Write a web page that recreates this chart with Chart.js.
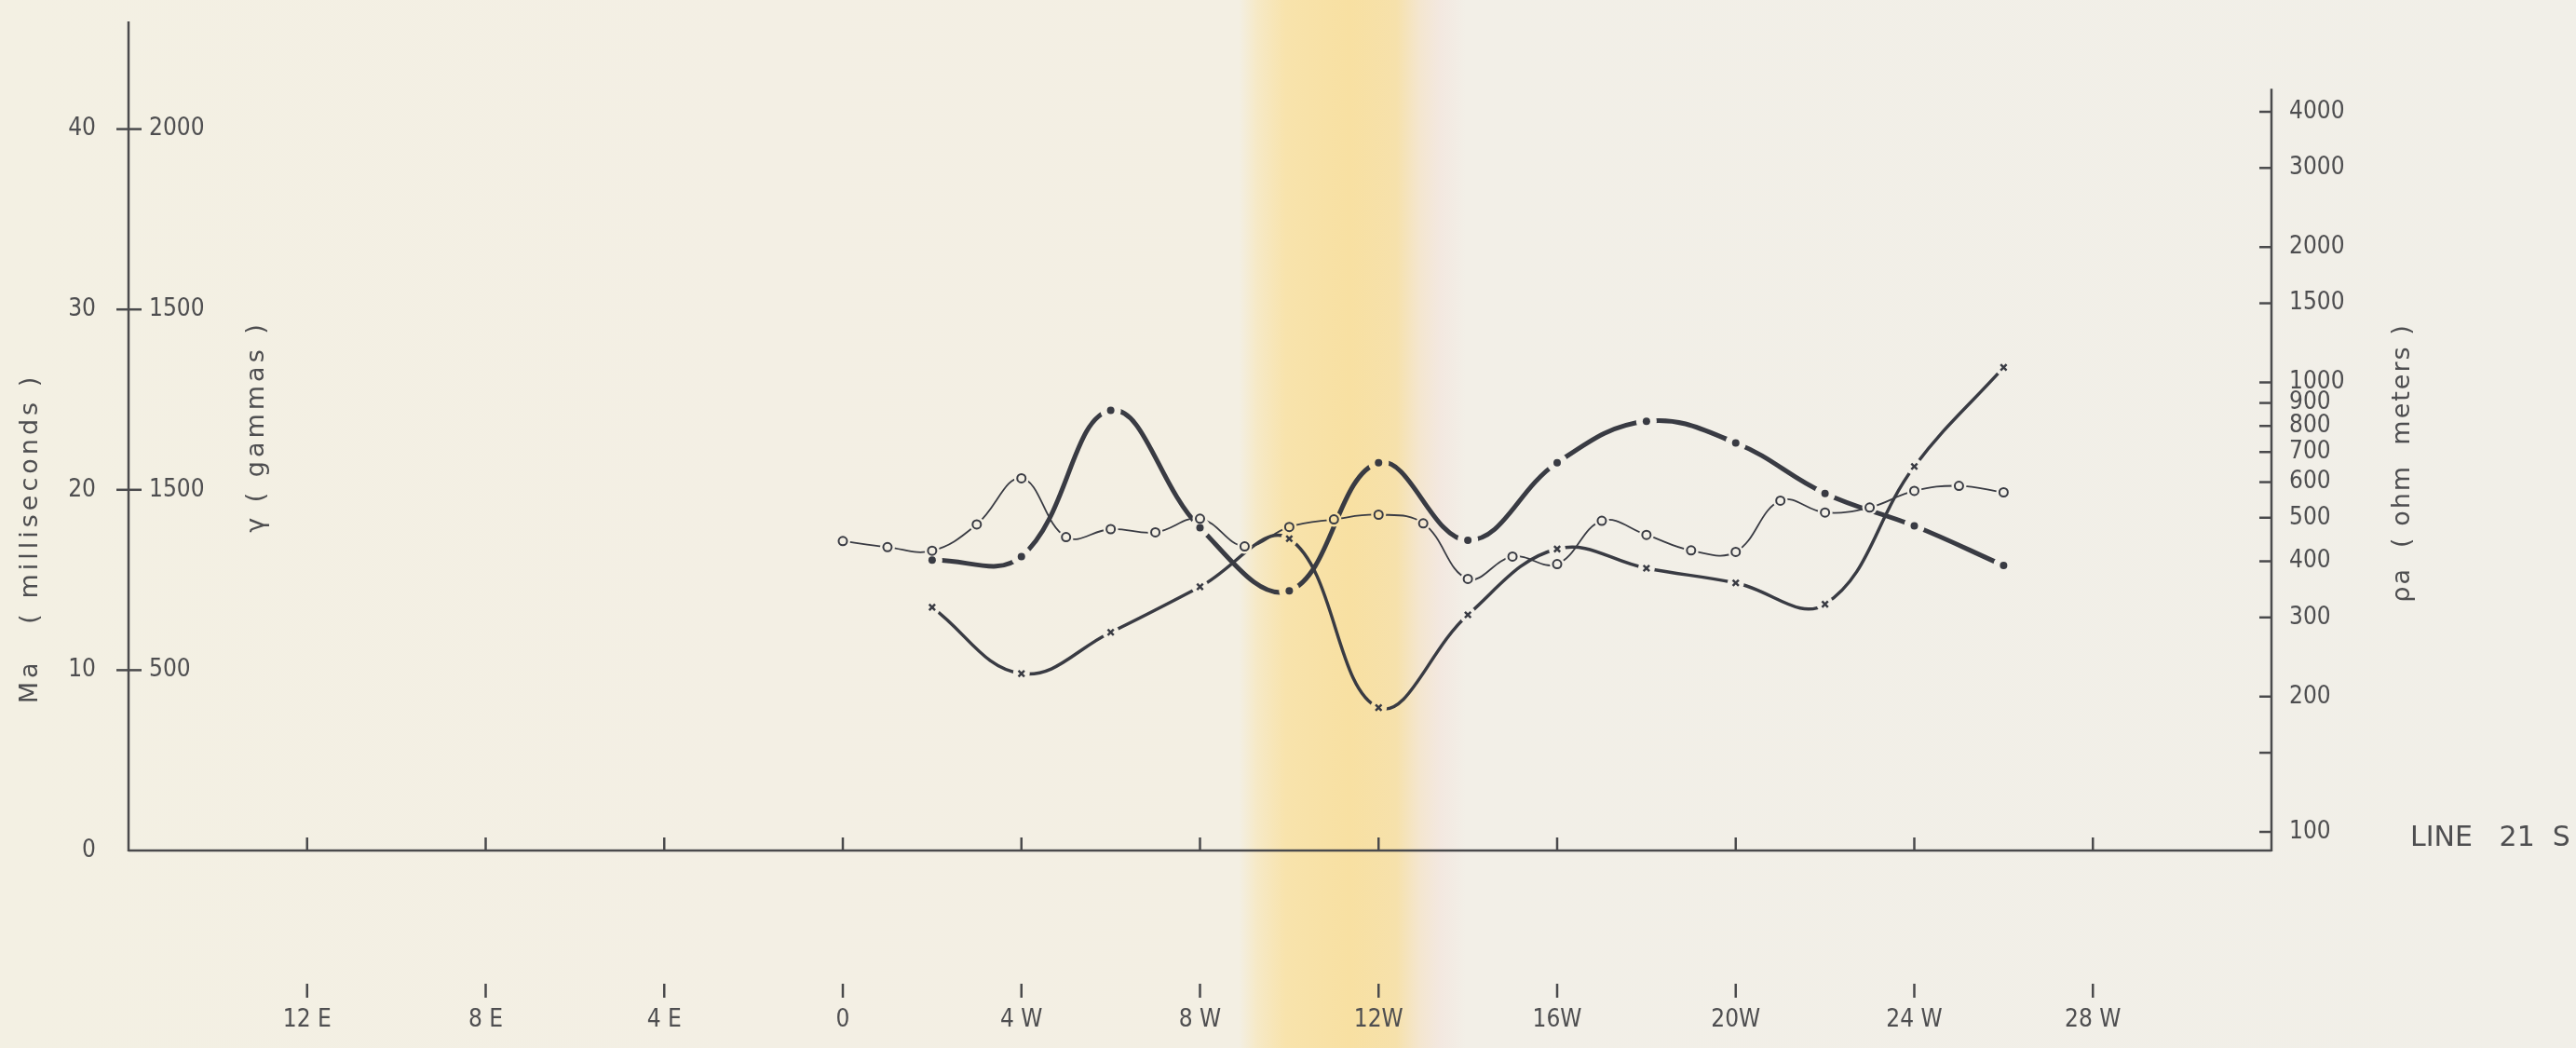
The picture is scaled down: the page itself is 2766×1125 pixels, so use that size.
<!DOCTYPE html>
<html>
<head>
<meta charset="utf-8">
<title>Line 21 S</title>
<script src="https://cdn.jsdelivr.net/npm/chart.js@4.4.1/dist/chart.umd.min.js"></script>
<style>
  html, body { margin: 0; padding: 0; }
  body {
    width: 2766px;
    height: 1125px;
    overflow: hidden;
    /* paper tone with the yellow stain band of the scan */
    background: linear-gradient(to right,
      #f3f0e3 0%, #f3efe4 30%, #f3efe3 48.1%, #f6e9c6 48.8%, #f8e3ac 49.9%,
      #f8e0a2 52.4%, #f6e1ab 54.2%, #f4e6cf 55.1%, #f3e8e0 55.9%,
      #f2efe7 56.9%, #f1efe8 100%);
  }
  #wrap { position: relative; width: 2766px; height: 1125px; }
</style>
</head>
<body>
<div id="wrap"><canvas id="profile"></canvas></div>
<script>
// stations: negative = east of 0, positive = west
const gammaStations = [0, 1, 2, 3, 4, 5, 6, 7, 8, 9, 10, 11, 12, 13, 14, 15, 16, 17, 18, 19, 20, 21, 22, 23, 24, 25, 26];
const gammaValues = [858, 841, 831, 904, 1032, 869, 891, 882, 920, 843, 897, 918, 931, 907, 753, 815, 794, 914, 875, 832, 828, 970, 937, 951, 997, 1011, 993];

const ipStations = [2, 4, 6, 8, 10, 12, 14, 16, 18, 20, 22, 24, 26];
const maValues = [16.1, 16.3, 24.4, 17.9, 14.4, 21.5, 17.2, 21.5, 23.8, 22.6, 19.8, 18.0, 15.8];
const rhoValues = [316, 225, 278, 351, 449, 189, 304, 426, 386, 358, 321, 650, 1080];

const stationTicks = [-12, -8, -4, 0, 4, 8, 12, 16, 20, 24, 28];
const stationLabels = ['12 E', '8 E', '4 E', '0', '4 W', '8 W', '12W', '16W', '20W', '24 W', '28 W'];
const maTicks = [0, 10, 20, 30, 40];
const maLabels = ['0', '10', '20', '30', '40'];
const gammaTicks = [500, 1000, 1500, 2000];
const gammaLabels = ['500', '1500', '1500', '2000'];
const rhoTicks = [100, 150, 200, 300, 400, 500, 600, 700, 800, 900, 1000, 1500, 2000, 3000, 4000];
const rhoLabels = ['100', '', '200', '300', '400', '500', '600', '700', '800', '900', '1000', '1500', '2000', '3000', '4000'];

const INK = '#393b43';
const AXIS = '#4a4a4c';
const TEXT = '#4e4e50';
const NARROW = "'Liberation Sans Narrow', 'DejaVu Sans Condensed', Roboto, sans-serif";
const PLAIN = "'DejaVu Sans', 'Liberation Sans', sans-serif";

const RHO_AXIS_TOP = 4500;

function pairs(xs, ys) {
  return xs.map((x, i) => ({ x, y: ys[i] }));
}

function line(ctx, x1, y1, x2, y2) {
  ctx.beginPath();
  ctx.moveTo(x1, y1);
  ctx.lineTo(x2, y2);
  ctx.stroke();
}

function vtext(ctx, str, cx, cy, font, spacing) {
  ctx.save();
  ctx.translate(cx, cy);
  ctx.rotate(-Math.PI / 2);
  ctx.font = font;
  ctx.letterSpacing = spacing;
  ctx.textAlign = 'center';
  ctx.textBaseline = 'middle';
  ctx.fillText(str, 0, 0);
  ctx.restore();
}

// fixed box for a scale, without the label overhang padding
function fixBox(w, h) {
  return s => {
    if (w !== null) s.width = w;
    if (h !== null) s.height = h;
    s.paddingTop = 0;
    s.paddingBottom = 0;
    s.paddingLeft = 0;
    s.paddingRight = 0;
  };
}

const profilePlugin = {
  id: 'profile',
  afterDatasetsDraw(chart) {
    const ctx = chart.ctx;
    // hand-drawn curves stop short of each station mark
    ctx.save();
    ctx.globalCompositeOperation = 'destination-out';
    chart.data.datasets.forEach((ds, i) => {
      chart.getDatasetMeta(i).data.forEach(pt => {
        ctx.beginPath();
        ctx.arc(pt.x, pt.y, ds.gap, 0, Math.PI * 2);
        ctx.fill();
      });
    });
    ctx.restore();
    chart.data.datasets.forEach((ds, i) => {
      chart.getDatasetMeta(i).data.forEach(pt => pt.draw(ctx, chart.chartArea));
    });
  },
  afterDraw(chart) {
    const ctx = chart.ctx;
    const { left, right, top } = chart.chartArea;
    const { x, y, y3 } = chart.scales;
    ctx.save();
    ctx.strokeStyle = AXIS;
    ctx.lineWidth = 2.5;
    ctx.lineCap = 'butt';

    const base = y.getPixelForValue(0);
    line(ctx, left, top, left, base + 1);
    line(ctx, left, base, right, base);
    line(ctx, right, y3.getPixelForValue(RHO_AXIS_TOP), right, base + 1);

    maTicks.filter(v => v > 0).forEach(v => {
      const py = y.getPixelForValue(v);
      line(ctx, left - 13, py, left + 14, py);
    });
    rhoTicks.forEach(v => {
      const py = y3.getPixelForValue(v);
      line(ctx, right - 13, py, right, py);
    });
    stationTicks.forEach(v => {
      const px = x.getPixelForValue(v);
      line(ctx, px, base - 14, px, base);
      line(ctx, px, base + 143, px, base + 158);
    });

    ctx.fillStyle = TEXT;
    vtext(ctx, 'Ma   ( milliseconds )', 33, 578, '27px ' + PLAIN, '4px');
    vtext(ctx, 'γ ( gammas )', 276, 458, '27px ' + PLAIN, '4px');
    vtext(ctx, 'ρa  ( ohm  meters )', 2580, 497, '27px ' + PLAIN, '2px');

    ctx.font = '30px ' + PLAIN;
    ctx.letterSpacing = '0px';
    ctx.textAlign = 'left';
    ctx.textBaseline = 'middle';
    ctx.fillText('LINE   21  S', 2588, 900);
    ctx.restore();
  }
};

const tickFont = { family: NARROW, size: 26 };

new Chart(document.getElementById('profile'), {
  type: 'line',
  data: {
    datasets: [
      {
        label: 'Ma',
        data: pairs(ipStations, maValues),
        yAxisID: 'y',
        borderColor: INK,
        borderWidth: 5,
        tension: 0.4,
        pointStyle: 'circle',
        pointRadius: 4,
        pointBorderWidth: 0,
        pointBackgroundColor: INK,
        gap: 11
      },
      {
        label: 'ρa',
        data: pairs(ipStations, rhoValues),
        yAxisID: 'y3',
        borderColor: INK,
        borderWidth: 3.5,
        tension: 0.4,
        pointStyle: 'crossRot',
        pointRadius: 4.5,
        pointBorderWidth: 2.5,
        pointBorderColor: INK,
        gap: 9
      },
      {
        label: 'γ',
        data: pairs(gammaStations, gammaValues),
        yAxisID: 'y2',
        borderColor: INK,
        borderWidth: 1.8,
        tension: 0.4,
        pointStyle: 'circle',
        pointRadius: 4.5,
        pointBorderWidth: 2,
        pointBorderColor: INK,
        pointBackgroundColor: 'rgba(0,0,0,0)',
        gap: 8
      }
    ]
  },
  options: {
    responsive: true,
    maintainAspectRatio: false,
    devicePixelRatio: 1,
    animation: false,
    events: [],
    layout: { padding: { top: 23, left: 0, right: 0, bottom: 0 } },
    plugins: { legend: { display: false }, tooltip: { enabled: false } },
    scales: {
      x: {
        type: 'linear',
        position: 'bottom',
        min: -16,
        max: 32,
        afterFit: fixBox(null, 212),
        afterBuildTicks: s => { s.ticks = stationTicks.map(v => ({ value: v })); },
        grid: { display: false, drawTicks: false },
        border: { display: false },
        ticks: {
          autoSkip: false,
          maxRotation: 0,
          padding: 167,
          color: TEXT,
          font: tickFont,
          callback: (v, i) => stationLabels[i]
        }
      },
      y: {
        type: 'linear',
        position: 'left',
        weight: 1,
        min: 0,
        max: 45.97,
        afterFit: fixBox(138, null),
        afterBuildTicks: s => { s.ticks = maTicks.map(v => ({ value: v })); },
        grid: { display: false, drawTicks: false },
        border: { display: false },
        ticks: { autoSkip: false, padding: 35, color: TEXT, font: tickFont, callback: (v, i) => maLabels[i] }
      },
      y2: {
        type: 'linear',
        position: 'left',
        weight: 0,
        min: 0,
        max: 2298.5,
        afterFit: fixBox(0, null),
        afterBuildTicks: s => { s.ticks = gammaTicks.map(v => ({ value: v })); },
        grid: { display: false, drawTicks: false },
        border: { display: false },
        ticks: { autoSkip: false, mirror: true, padding: 22, color: TEXT, font: tickFont, callback: (v, i) => gammaLabels[i] }
      },
      y3: {
        type: 'logarithmic',
        position: 'right',
        min: 90.9,
        max: 6355,
        afterFit: fixBox(327, null),
        afterBuildTicks: s => { s.ticks = rhoTicks.map(v => ({ value: v })); },
        grid: { display: false, drawTicks: false },
        border: { display: false },
        ticks: { autoSkip: false, padding: 19, color: TEXT, font: tickFont, callback: (v, i) => rhoLabels[i] }
      }
    }
  },
  plugins: [profilePlugin]
});
</script>
</body>
</html>
